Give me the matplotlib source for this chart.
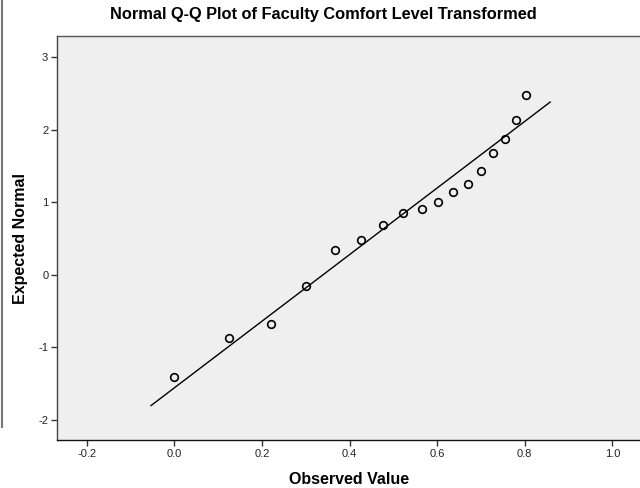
import matplotlib
matplotlib.use("Agg")
import matplotlib.pyplot as plt
from matplotlib.lines import Line2D
import numpy as np

observed = [0.0, 0.125, 0.221, 0.301, 0.368, 0.426, 0.477, 0.523, 0.565,
            0.603, 0.637, 0.670, 0.700, 0.728, 0.754, 0.779, 0.802]
expected = [-1.41, -0.87, -0.67, -0.155, 0.345, 0.48, 0.685, 0.85, 0.913,
            1.0, 1.14, 1.257, 1.428, 1.675, 1.88, 2.13, 2.48]

# Reference line: expected = (x - mean) / sd
line_mean = 0.339
line_sd = 0.2177
line_x = [-0.053, 0.858]

x_ticks = [-0.2, 0.0, 0.2, 0.4, 0.6, 0.8, 1.0]
y_ticks = [-2, -1, 0, 1, 2, 3]

plt.rcParams['font.family'] = ['Liberation Sans', 'DejaVu Sans']
plt.rcParams['axes.unicode_minus'] = False

fig = plt.figure(figsize=(6.4, 4.88), dpi=100)
ax = fig.add_axes([0.0895, 0.0977, 0.9105, 0.829])
ax.set_facecolor('#efefef')

# fitted line
lx = np.array(line_x)
ax.plot(lx, (lx - line_mean) / line_sd, color='black', lw=1.0, zorder=2)

# points
ax.plot(observed, expected, linestyle='none', marker='o', markersize=5.5,
        markerfacecolor='none', markeredgecolor='black', markeredgewidth=1.2,
        zorder=3)

ax.set_xlim(-0.267, 1.063)
ax.set_ylim(-2.28, 3.298)
ax.set_xticks(x_ticks)
ax.set_xticklabels([f"{t:.1f}" for t in x_ticks])
ax.set_yticks(y_ticks)
ax.set_yticklabels([str(t) for t in y_ticks])
ax.tick_params(direction='out', length=4.5, width=1, labelsize=8, pad=2,
               colors='#333333', labelcolor='#222222')

ax.spines['right'].set_visible(False)
ax.spines['top'].set_color('#555555')
ax.spines['left'].set_color('#444444')
ax.spines['bottom'].set_color('#111111')
for s in ('top', 'left', 'bottom'):
    ax.spines[s].set_linewidth(1.0)

# axis titles placed where the reference has them
fig.text(349 / 640, 1 - 479 / 488, 'Observed Value', ha='center', va='center',
         fontsize=11.5, fontweight='bold')
fig.text(21 / 640, 1 - 239 / 488, 'Expected Normal', ha='center', va='center',
         rotation=90, fontsize=11.5, fontweight='bold')

fig.text(323 / 640, 1 - 15 / 488,
         'Normal Q-Q Plot of Faculty Comfort Level Transformed',
         ha='center', va='center', fontsize=11.8, fontweight='bold')

# frame line on the left edge of the output
fig.add_artist(Line2D([1.7 / 640, 1.7 / 640], [1.0, 1 - 427 / 488],
                      transform=fig.transFigure, color='#777777', lw=1.5))

fig.savefig('out.png', dpi=100)
